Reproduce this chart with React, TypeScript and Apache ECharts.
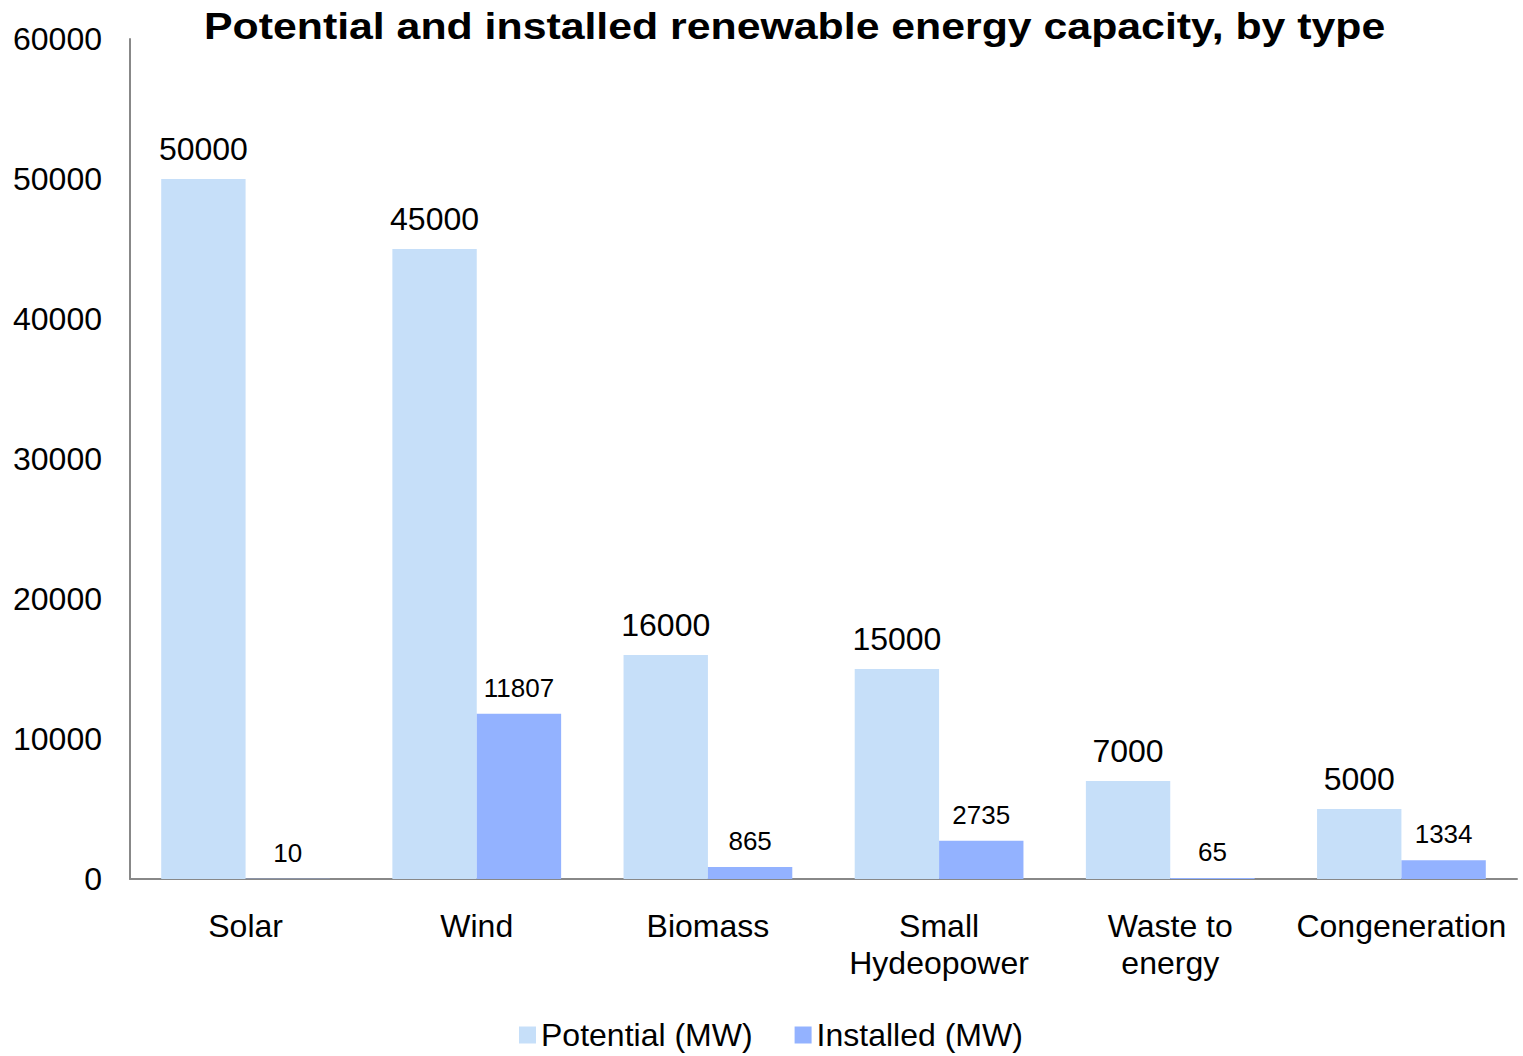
import React, { useEffect, useRef } from "react";
import * as echarts from "echarts";

// Renewable energy capacity by technology, in megawatts
const categories = [
  "Solar",
  "Wind",
  "Biomass",
  "Small\nHydeopower",
  "Waste to\nenergy",
  "Congeneration",
];
const potentialMW = [50000, 45000, 16000, 15000, 7000, 5000];
const installedMW = [10, 11807, 865, 2735, 65, 1334];
const yTicks = { min: 0, max: 60000, interval: 10000 };

const TITLE = "Potential and installed renewable energy capacity, by type";
const FONT = "'Liberation Sans', Arial, Helvetica, sans-serif";
const POTENTIAL_COLOR = "#C6DFF9";
const INSTALLED_COLOR = "#93B2FF";

export default function App() {
  const ref = useRef<HTMLDivElement>(null);

  useEffect(() => {
    if (!ref.current) return;
    const chart = echarts.init(ref.current, undefined, { renderer: "svg" });
    chart.setOption({
      animation: false,
      backgroundColor: "#ffffff",
      textStyle: { fontFamily: FONT, color: "#000" },
      graphic: [
        {
          // wide bold heading, stretched horizontally
          type: "text",
          x: 204,
          y: 8,
          scaleX: 1.157,
          style: {
            text: TITLE,
            font: `bold 37px ${FONT}`,
            fill: "#000",
            textAlign: "left",
            textVerticalAlign: "top",
          },
        },
      ],
      legend: {
        left: 514,
        top: 1014,
        icon: "rect",
        itemWidth: 17,
        itemHeight: 17,
        itemGap: 42,
        textStyle: { fontFamily: FONT, fontSize: 32, color: "#000" },
        data: ["Potential (MW)", "Installed (MW)"],
      },
      grid: { left: 130, right: 6, top: 39, bottom: 177, containLabel: false },
      xAxis: {
        type: "category",
        data: categories,
        axisLine: { show: true, lineStyle: { color: "#888888", width: 2 } },
        axisTick: { show: false },
        axisLabel: {
          fontFamily: FONT,
          fontSize: 32,
          lineHeight: 37,
          color: "#000",
          margin: 28,
          interval: 0,
        },
      },
      yAxis: {
        type: "value",
        min: yTicks.min,
        max: yTicks.max,
        interval: yTicks.interval,
        axisLine: { show: true, lineStyle: { color: "#888888", width: 2 } },
        axisTick: { show: false },
        splitLine: { show: false },
        axisLabel: {
          fontFamily: FONT,
          fontSize: 32,
          color: "#000",
          margin: 28,
          formatter: (v: number) => String(v),
        },
      },
      series: [
        {
          name: "Potential (MW)",
          type: "bar",
          data: potentialMW,
          barGap: "0%",
          barCategoryGap: "27%",
          itemStyle: { color: POTENTIAL_COLOR },
          label: {
            show: true,
            position: "top",
            distance: 14,
            fontFamily: FONT,
            fontSize: 32,
            color: "#000",
          },
        },
        {
          name: "Installed (MW)",
          type: "bar",
          data: installedMW,
          itemStyle: { color: INSTALLED_COLOR },
          label: {
            show: true,
            position: "top",
            distance: 13,
            fontFamily: FONT,
            fontSize: 26,
            color: "#000",
          },
        },
      ],
    });
    return () => chart.dispose();
  }, []);

  return (
    <div
      ref={ref}
      style={{ position: "absolute", left: 0, top: 0, width: 1523, height: 1056 }}
    />
  );
}
